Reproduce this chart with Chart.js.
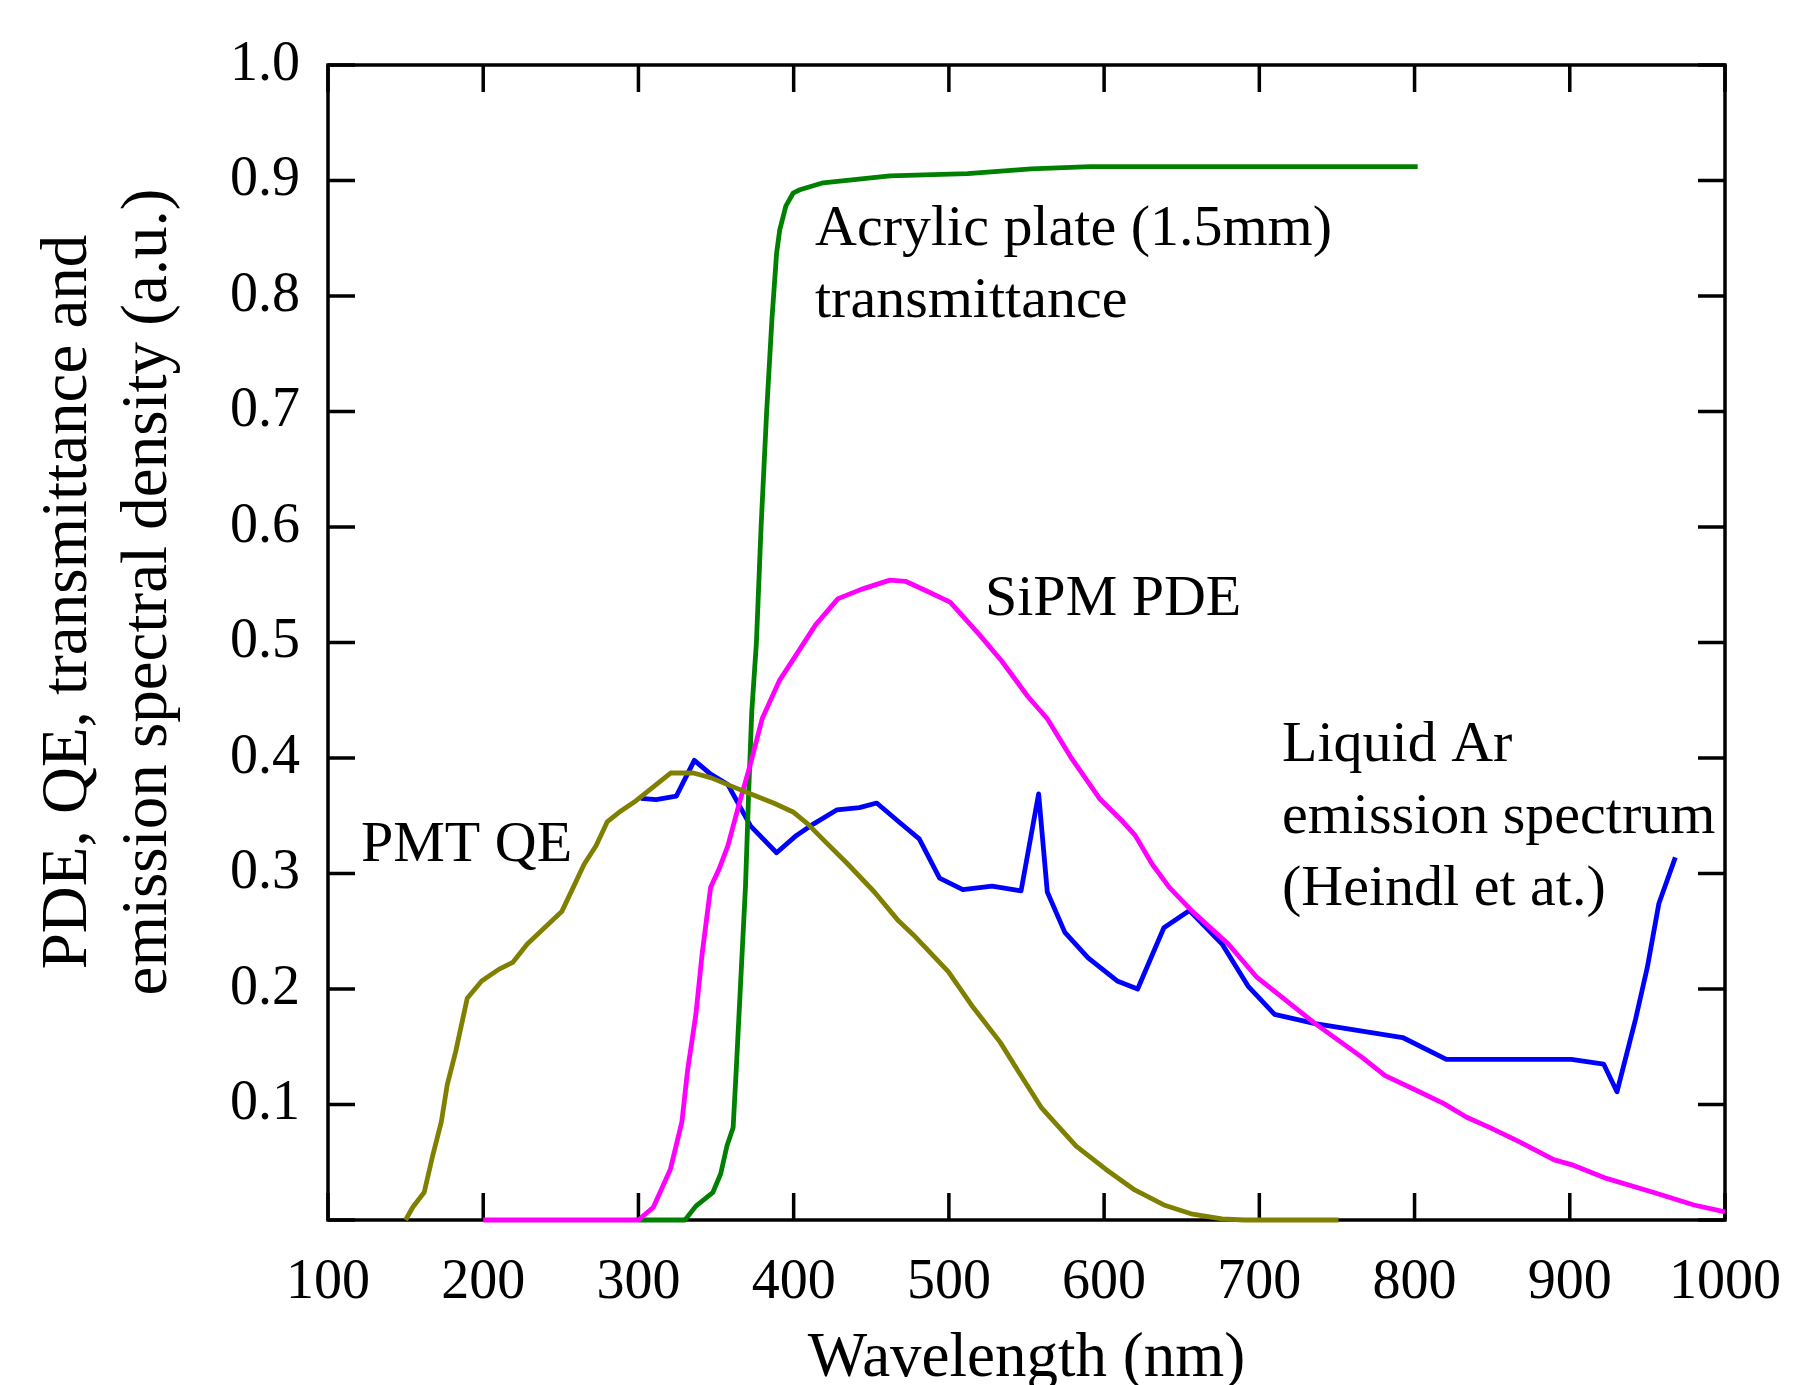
<!DOCTYPE html>
<html>
<head>
<meta charset="utf-8">
<script src="https://cdn.jsdelivr.net/npm/chart.js@4.4.1/dist/chart.umd.min.js"></script>
<style>
html,body{margin:0;padding:0;background:#fff;}
canvas{display:block;}
</style>
</head>
<body>
<canvas id="c" width="1793" height="1385"></canvas>
<script>
// ---- data (wavelength in nm, value in a.u.) ----
const acrylicX = [300, 330, 337, 348, 353, 357, 361, 363, 366, 369, 371, 373, 376, 379, 382.6, 386, 389, 391, 395, 399.6, 404, 419, 462, 512, 553, 591, 700, 802];
const acrylicY = [0, 0, 0.012, 0.024, 0.04, 0.064, 0.08, 0.13, 0.21, 0.29, 0.37, 0.44, 0.5, 0.6, 0.7, 0.78, 0.837, 0.857, 0.878, 0.889, 0.892, 0.898, 0.904, 0.906, 0.91, 0.912, 0.912, 0.912];

const sipmX = [200, 300, 309.6, 320.6, 328, 331.7, 337, 341, 346.5, 352, 357.6, 365, 372, 379.7, 390.8, 401, 414, 428.6, 443.5, 462, 472, 485, 500.8, 519.5, 534, 551, 563.4, 578.4, 597, 612, 620, 631, 642, 657, 680, 698.5, 713.5, 736, 766, 781, 800, 818.6, 833.6, 848.6, 867, 890, 901, 923.6, 953.6, 980, 1000];
const sipmY = [0, 0, 0.011, 0.044, 0.085, 0.13, 0.178, 0.23, 0.288, 0.304, 0.324, 0.361, 0.394, 0.434, 0.467, 0.488, 0.515, 0.538, 0.546, 0.554, 0.553, 0.545, 0.535, 0.507, 0.484, 0.453, 0.434, 0.401, 0.365, 0.345, 0.333, 0.308, 0.288, 0.267, 0.239, 0.21, 0.194, 0.17, 0.141, 0.125, 0.113, 0.101, 0.089, 0.080, 0.068, 0.052, 0.048, 0.036, 0.024, 0.013, 0.007];

const pmtX = [150, 154.6, 162, 167.5, 173, 176.8, 182.3, 189.7, 199, 210, 219, 228.4, 239.5, 250.6, 258, 265, 272.7, 280, 287.5, 298.5, 309.6, 320.7, 335.4, 346.5, 361, 372, 387, 400, 409, 420, 435, 452, 467.5, 477, 499.6, 514.6, 533, 544.6, 559.7, 582, 601, 619.7, 638.5, 657, 676, 690, 751];
const pmtY = [0, 0.011, 0.024, 0.056, 0.085, 0.117, 0.146, 0.192, 0.207, 0.217, 0.223, 0.239, 0.253, 0.267, 0.288, 0.308, 0.324, 0.345, 0.353, 0.363, 0.375, 0.387, 0.387, 0.383, 0.375, 0.369, 0.361, 0.353, 0.343, 0.328, 0.308, 0.284, 0.259, 0.247, 0.215, 0.186, 0.154, 0.129, 0.097, 0.064, 0.044, 0.026, 0.013, 0.005, 0.001, 0, 0];

const larX = [301.5, 311.4, 324.4, 336, 346.5, 357.6, 372.3, 389, 401.8, 412.9, 427.7, 442.4, 453.5, 467.5, 480.9, 494, 509, 527.8, 546.5, 557.8, 563.4, 574.7, 589.7, 608.4, 621.6, 638.5, 655, 676, 693, 709.8, 736, 792.3, 820.5, 901, 921.8, 930.4, 942.4, 950, 957.4, 968];
const larY = [0.365, 0.364, 0.367, 0.398, 0.386, 0.377, 0.341, 0.318, 0.333, 0.343, 0.355, 0.357, 0.361, 0.345, 0.330, 0.296, 0.286, 0.289, 0.285, 0.369, 0.284, 0.249, 0.227, 0.207, 0.200, 0.253, 0.268, 0.239, 0.202, 0.178, 0.170, 0.158, 0.139, 0.139, 0.135, 0.111, 0.174, 0.219, 0.274, 0.314];

const xTickMin = 100, xTickMax = 1000, xTickStep = 100;
const yTickMin = 0, yTickMax = 1, yTickStep = 0.1;
const xTitle = 'Wavelength (nm)';
const yTitleLines = ['PDE, QE, transmittance and', 'emission spectral density (a.u.)'];
const labelAcrylic = ['Acrylic plate (1.5mm)', 'transmittance'];
const labelSipm = ['SiPM PDE'];
const labelPmt = ['PMT QE'];
const labelLar = ['Liquid Ar', 'emission spectrum', '(Heindl et at.)'];

// ---- build ----
function pts(xs, ys) { return xs.map((x, i) => ({x: x, y: ys[i]})); }
const FONT = '"Liberation Serif", "Times New Roman", serif';

const frameAndTicks = {
  id: 'frameAndTicks',
  beforeDatasetsDraw(chart) {
    const {ctx, chartArea: a, scales} = chart;
    ctx.save();
    ctx.strokeStyle = '#000';
    ctx.lineWidth = 3.5;
    ctx.lineCap = 'butt';
    const tl = 27;
    ctx.beginPath();
    scales.x.ticks.forEach(t => {
      const px = scales.x.getPixelForValue(t.value);
      ctx.moveTo(px, a.bottom); ctx.lineTo(px, a.bottom - tl);
      ctx.moveTo(px, a.top); ctx.lineTo(px, a.top + tl);
    });
    scales.y.ticks.forEach(t => {
      const py = scales.y.getPixelForValue(t.value);
      ctx.moveTo(a.left, py); ctx.lineTo(a.left + tl, py);
      ctx.moveTo(a.right, py); ctx.lineTo(a.right - tl, py);
    });
    ctx.stroke();
    ctx.strokeRect(a.left, a.top, a.right - a.left, a.bottom - a.top);
    ctx.restore();
  },
  afterDraw(chart) {
    const {ctx} = chart;
    ctx.save();
    ctx.fillStyle = '#000';
    // y axis title (two rotated lines)
    ctx.font = '65px ' + FONT;
    ctx.textAlign = 'center';
    ctx.textBaseline = 'alphabetic';
    const yMid = [602, 592];
    const yBase = [86, 166];
    yTitleLines.forEach((s, i) => {
      ctx.save();
      ctx.translate(yBase[i], yMid[i]);
      ctx.rotate(-Math.PI / 2);
      ctx.fillText(s, 0, 0);
      ctx.restore();
    });
    // annotations
    ctx.font = '58px ' + FONT;
    ctx.textAlign = 'left';
    const put = (lines, x, y0, dy) => lines.forEach((s, i) => ctx.fillText(s, x, y0 + i * dy));
    put(labelAcrylic, 815, 245, 71.5);
    put(labelSipm, 985, 615, 72);
    put(labelPmt, 361, 861, 72);
    put(labelLar, 1282, 761, 72);
    ctx.restore();
  }
};

const common = {pointRadius: 0, borderWidth: 4.8, tension: 0, fill: false, clip: false, borderJoinStyle: 'round'};

new Chart(document.getElementById('c'), {
  type: 'line',
  data: {
    datasets: [
      Object.assign({label: 'PMT QE', data: pts(pmtX, pmtY), borderColor: '#808000'}, common),
      Object.assign({label: 'SiPM PDE', data: pts(sipmX, sipmY), borderColor: '#ff00ff'}, common),
      Object.assign({label: 'Acrylic', data: pts(acrylicX, acrylicY), borderColor: '#008000'}, common),
      Object.assign({label: 'Liquid Ar', data: pts(larX, larY), borderColor: '#0000ff'}, common)
    ]
  },
  options: {
    responsive: false,
    animation: false,
    devicePixelRatio: 1,
    layout: {padding: {top: 65, right: 68, left: 0, bottom: 0}},
    plugins: {legend: {display: false}, tooltip: {enabled: false}},
    scales: {
      x: {
        type: 'linear', min: xTickMin, max: xTickMax,
        grid: {display: false},
        border: {display: false},
        ticks: {stepSize: xTickStep, color: '#000', padding: 22, maxRotation: 0,
                font: {family: FONT, size: 56},
                callback: v => String(Math.round(v))},
        title: {display: true, text: xTitle, color: '#000', padding: 0,
                font: {family: FONT, size: 63, lineHeight: 0.8}},
        afterFit(s) { s.height = 165; s.paddingLeft = 0; s.paddingRight = 0; }
      },
      y: {
        type: 'linear', min: yTickMin, max: yTickMax,
        grid: {display: false},
        border: {display: false},
        ticks: {stepSize: yTickStep, color: '#000', padding: 20,
                font: {family: FONT, size: 56},
                callback: v => (Math.abs(v) < 1e-9 ? '' : Number(v).toFixed(1))},
        afterFit(s) { s.width = 328; s.paddingTop = 0; s.paddingBottom = 0; }
      }
    }
  },
  plugins: [frameAndTicks]
});
</script>
</body>
</html>
